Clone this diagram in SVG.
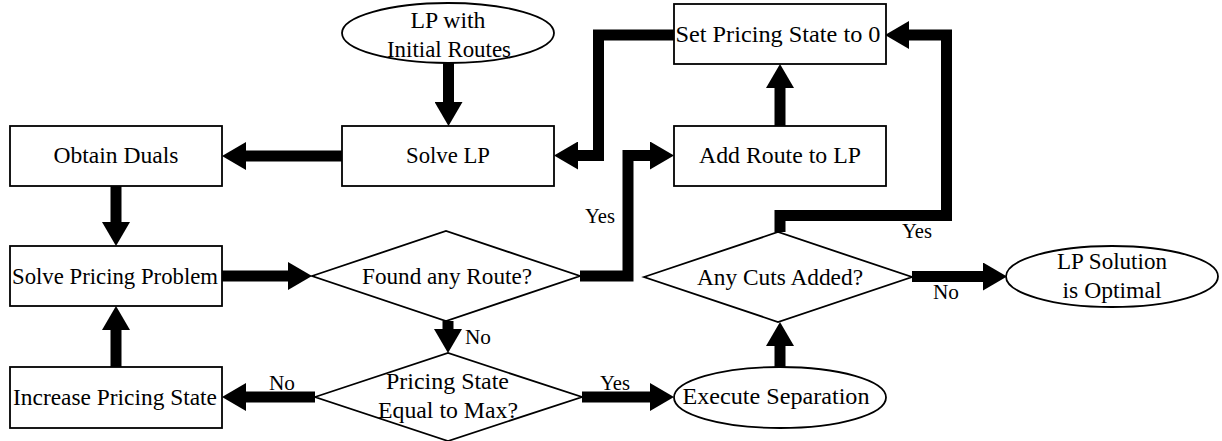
<svg xmlns="http://www.w3.org/2000/svg" width="1222" height="441" viewBox="0 0 1222 441">
<style>
.n{fill:#fff;stroke:#000;stroke-width:1.8}
.t{font-family:'Liberation Serif','DejaVu Serif',serif;font-size:22.5px;text-anchor:middle;fill:#000}
.l{font-family:'Liberation Serif','DejaVu Serif',serif;font-size:20.5px;fill:#000}
.c{fill:none;stroke:#000;stroke-width:11;stroke-linejoin:miter;stroke-linecap:butt;marker-end:url(#ah)}
</style>
<defs>
<marker id="ah" markerUnits="userSpaceOnUse" markerWidth="24" markerHeight="28" refX="0" refY="14" orient="auto" viewBox="0 0 24 28">
<path d="M0,0 L24,14 L0,28 Z" fill="#000"/>
</marker>
</defs>
<rect width="1222" height="441" fill="#fff"/>
<g id="connectors">
<path class="c" d="M448.5,63 V102"/>
<path class="c" d="M342,156 H246"/>
<path class="c" d="M674,35 H598.5 V155.5 H578"/>
<path class="c" d="M116,186 V222"/>
<path class="c" d="M222,276 H288"/>
<path class="c" d="M580,276 H628 V155.5 H650"/>
<path class="c" d="M780,126 V88"/>
<path class="c" d="M448,321 V329"/>
<path class="c" d="M116,367 V330"/>
<path class="c" d="M315,397 H246"/>
<path class="c" d="M582,397 H650"/>
<path class="c" d="M780,367 V346"/>
<path class="c" d="M780,232 V215.5 H946.5 V35 H909"/>
<path class="c" d="M912,276.5 H983"/>
</g>
<g id="labels">
<text class="l" x="600" y="223" text-anchor="middle" textLength="30" lengthAdjust="spacingAndGlyphs">Yes</text>
<text class="l" x="465" y="344" textLength="26" lengthAdjust="spacingAndGlyphs">No</text>
<text class="l" x="282" y="390" text-anchor="middle" textLength="26" lengthAdjust="spacingAndGlyphs">No</text>
<text class="l" x="615" y="390" text-anchor="middle" textLength="30" lengthAdjust="spacingAndGlyphs">Yes</text>
<text class="l" x="917" y="238" text-anchor="middle" textLength="30" lengthAdjust="spacingAndGlyphs">Yes</text>
<text class="l" x="946" y="299" text-anchor="middle" textLength="26" lengthAdjust="spacingAndGlyphs">No</text>
</g>
<g id="lp-initial">
<ellipse class="n" cx="448" cy="33" rx="106" ry="30"/>
<text class="t" x="448" y="28" textLength="75" lengthAdjust="spacingAndGlyphs">LP with</text>
<text class="t" x="449" y="57" textLength="124" lengthAdjust="spacingAndGlyphs">Initial Routes</text>
</g>
<g id="set-pricing">
<rect class="n" x="674" y="4" width="212" height="60"/>
<text class="t" x="778" y="42" textLength="205" lengthAdjust="spacingAndGlyphs">Set Pricing State to 0</text>
</g>
<g id="obtain-duals">
<rect class="n" x="10" y="126" width="212" height="60"/>
<text class="t" x="116" y="163" textLength="125" lengthAdjust="spacingAndGlyphs">Obtain Duals</text>
</g>
<g id="solve-lp">
<rect class="n" x="342" y="126" width="212" height="60"/>
<text class="t" x="448" y="163" textLength="84" lengthAdjust="spacingAndGlyphs">Solve LP</text>
</g>
<g id="add-route">
<rect class="n" x="674" y="126" width="212" height="60"/>
<text class="t" x="780" y="163" textLength="162" lengthAdjust="spacingAndGlyphs">Add Route to LP</text>
</g>
<g id="solve-pricing">
<rect class="n" x="10" y="246" width="212" height="60"/>
<text class="t" x="115" y="283.5" textLength="206" lengthAdjust="spacingAndGlyphs">Solve Pricing Problem</text>
</g>
<g id="found-route">
<polygon class="n" points="312,276 446,231 580,276 446,321"/>
<text class="t" x="447" y="283.5" textLength="170" lengthAdjust="spacingAndGlyphs">Found any Route?</text>
</g>
<g id="any-cuts">
<polygon class="n" points="644,277 778,232 912,277 778,322"/>
<text class="t" x="780" y="284.5" textLength="166" lengthAdjust="spacingAndGlyphs">Any Cuts Added?</text>
</g>
<g id="lp-optimal">
<ellipse class="n" cx="1112" cy="276.5" rx="106" ry="30.5"/>
<text class="t" x="1112" y="269" textLength="110" lengthAdjust="spacingAndGlyphs">LP Solution</text>
<text class="t" x="1112" y="298" textLength="99" lengthAdjust="spacingAndGlyphs">is Optimal</text>
</g>
<g id="increase-pricing">
<rect class="n" x="10" y="367" width="212" height="61"/>
<text class="t" x="115" y="404.5" textLength="204" lengthAdjust="spacingAndGlyphs">Increase Pricing State</text>
</g>
<g id="pricing-max">
<polygon class="n" points="315,397 448,353 582,397 448,441"/>
<text class="t" x="447.5" y="389" textLength="123" lengthAdjust="spacingAndGlyphs">Pricing State</text>
<text class="t" x="448" y="418" textLength="140" lengthAdjust="spacingAndGlyphs">Equal to Max?</text>
</g>
<g id="execute-separation">
<ellipse class="n" cx="780" cy="397.5" rx="106" ry="30.5"/>
<text class="t" x="776" y="404" textLength="187" lengthAdjust="spacingAndGlyphs">Execute Separation</text>
</g>
</svg>
